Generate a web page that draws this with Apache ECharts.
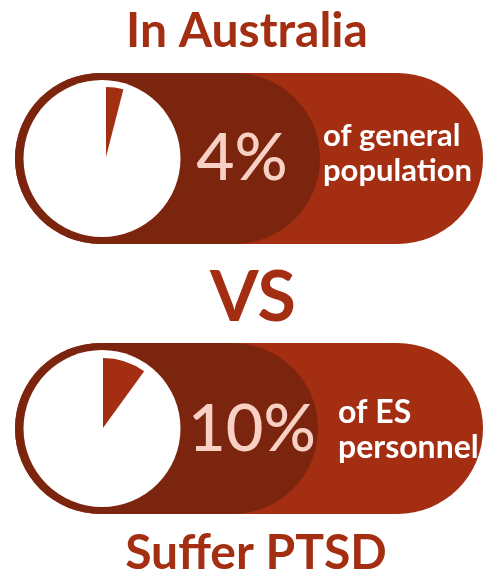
<!DOCTYPE html>
<html>
<head>
<meta charset="utf-8">
<script src="https://cdn.jsdelivr.net/npm/echarts@6/dist/echarts.min.js"></script>
<style>
  html, body { margin: 0; padding: 0; background: #fff; }
  #chart { width: 485px; height: 575px; }
</style>
</head>
<body>
<div id="chart"></div>
<script>
// 数据
var groups = ['In Australia', 'Suffer PTSD']
var percents = [4, 10]
var percentLabels = ['4%', '10%']
var captions = [['of general', 'population'], ['of ES', 'personnel']]
var vsText = 'VS'

var dark = '#7b240e'
var light = '#a32e12'
var pink = '#f8d1c4'
var font = 'Lato'

// 每个胶囊的位置
var rows = [
  { top: 73, pieX: 106, pieY: 157, circX: 102, darkW: 305, pctX: 242, pctSize: 66, capX: 323, capSize: 31, capY: [136, 171] },
  { top: 343, pieX: 103, pieY: 428, circX: 102, darkW: 303, pctX: 252, pctSize: 65, capX: 338, capSize: 32, capY: [413, 448] }
]

var myChart = echarts.init(document.getElementById('chart'))

var graphics = []
var series = []
rows.forEach(function (r, i) {
  graphics.push({
    type: 'rect', z: 1,
    shape: { x: 15, y: r.top, width: 468, height: 171, r: 85.5 },
    style: { fill: light }
  })
  graphics.push({
    type: 'rect', z: 2,
    shape: { x: 15, y: r.top, width: r.darkW, height: 171, r: 85.5 },
    style: { fill: dark }
  })
  graphics.push({
    type: 'circle', z: 3,
    shape: { cx: r.circX, cy: r.top + 85.5, r: 78.5 },
    style: { fill: '#fff' }
  })
  graphics.push({
    type: 'text', z: 4,
    x: r.pctX, y: r.pieY + 2,
    style: {
      text: percentLabels[i], fill: pink, font: '500 ' + r.pctSize + 'px ' + font,
      align: 'center', verticalAlign: 'middle'
    }
  })
  captions[i].forEach(function (t, j) {
    graphics.push({
      type: 'text', z: 4,
      x: r.capX, y: r.capY[j],
      style: {
        text: t, fill: '#fff', font: 'bold ' + r.capSize + 'px ' + font,
        align: 'left', verticalAlign: 'middle'
      }
    })
  })
  series.push({
    type: 'pie',
    z: 10,
    center: [r.pieX, r.pieY],
    radius: [0, 70],
    startAngle: 90,
    clockwise: true,
    silent: true,
    label: { show: false },
    labelLine: { show: false },
    data: [
      { value: percents[i], itemStyle: { color: light } },
      { value: 100 - percents[i], itemStyle: { color: 'rgba(0,0,0,0)' } }
    ]
  })
})

// 标题文字
graphics.push({
  type: 'text', x: 247, y: 32,
  style: { text: groups[0], fill: light, font: 'bold 48px ' + font, align: 'center', verticalAlign: 'middle' }
})
graphics.push({
  type: 'text', x: 253, y: 298,
  style: { text: vsText, fill: light, font: 'bold 70px ' + font, align: 'center', verticalAlign: 'middle' }
})
graphics.push({
  type: 'text', x: 256, y: 554,
  style: { text: groups[1], fill: light, font: 'bold 48px ' + font, align: 'center', verticalAlign: 'middle' }
})

var option = {
  animation: false,
  graphic: graphics,
  series: series
}
myChart.setOption(option)
</script>
</body>
</html>
